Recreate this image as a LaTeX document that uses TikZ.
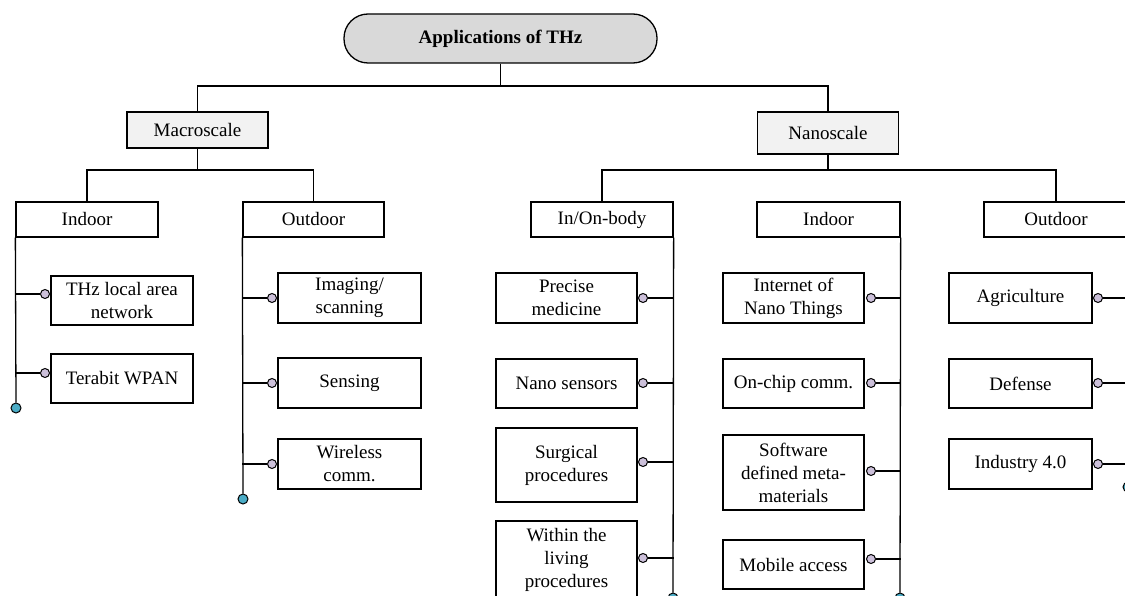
\documentclass[tikz,border=0pt]{standalone}
\usepackage{fontspec}
\setmainfont{Liberation Serif}
\begin{document}
\definecolor{rootgray}{HTML}{D9D9D9}
\definecolor{scalegray}{HTML}{F2F2F2}
\definecolor{pinlav}{HTML}{CCC0DA}
\definecolor{endteal}{HTML}{4BACC6}
\begin{tikzpicture}[x=1pt,y=-1pt,
  every node/.style={font=\fontsize{19}{23}\selectfont},
  link/.style={line width=1.3pt},
  rootbox/.style={draw, line width=1.3pt, rounded corners=24pt, fill=rootgray,
    minimum width=313pt, minimum height=49pt, inner sep=0pt,
    font=\fontsize{19}{23}\selectfont\bfseries},
  scalebox/.style={draw, line width=1.3pt, fill=scalegray, minimum width=141pt, inner sep=0pt},
  areabox/.style={draw, line width=1.3pt, fill=white, minimum height=35pt, inner sep=0pt},
  leafbox/.style={draw, line width=1.3pt, fill=white, align=center, inner sep=0pt},
  pin/.style={circle, draw, line width=1pt, fill=pinlav, minimum size=9pt, inner sep=0pt},
  enddot/.style={circle, draw, line width=1pt, fill=endteal, minimum size=10pt, inner sep=0pt}]
\useasboundingbox (0,0) rectangle (1125,596);
\clip (0,0) rectangle (1125,596);

% levels of the tree
\coordinate (topbar) at (0,86);
\coordinate (midbar) at (0,170);

\node[rootbox] (root) at (500.5,38.5) {Applications of THz};
\node[scalebox, minimum height=36pt] (macro) at (197.5,130) {Macroscale};
\node[scalebox, minimum height=42pt] (nano) at (828,133) {Nanoscale};

\node[areabox, minimum width=142pt] (mIn)   at (87,219.5)    {Indoor};
\node[areabox, minimum width=141pt] (mOut)  at (313.5,219.5) {Outdoor};
\node[areabox, minimum width=142pt] (nBody) at (602,219.5)   {In/On-body};
\node[areabox, minimum width=143pt] (nIn)   at (828.5,219.5) {Indoor};
\node[areabox, minimum width=144pt] (nOut)  at (1056,219.5)  {Outdoor};

\draw[link] (root.south) -- (root.south |- topbar);
\draw[link] (macro.north) |- (nano.north |- topbar) -- (nano.north);
\draw[link] (macro.south) -- (macro.south |- midbar);
\draw[link] (mIn.north) |- (mOut.north |- midbar) -- (mOut.north);
\draw[link] (nano.south) -- (nano.south |- midbar);
\draw[link] (nBody.north) |- (nOut.north |- midbar) -- (nOut.north);

% Macroscale / Indoor
\node[leafbox, minimum width=142pt, minimum height=49pt] (t1) at (122,300.5) {THz local area\\network};
\node[leafbox, minimum width=142pt, minimum height=49pt] (t2) at (122,378.5) {Terabit WPAN};
\node[pin] (t1p) at (45,294) {};
\node[pin] (t2p) at (45,373) {};
\node[enddot] (mInEnd) at (16,408) {};
\draw[link] (mIn.south west) -- (mInEnd.north);
\draw[link] (t1p.west) -- (t1p.west -| mIn.west);
\draw[link] (t2p.west) -- (t2p.west -| mIn.west);

% Macroscale / Outdoor
\node[leafbox, minimum width=143pt, minimum height=50pt] (o1) at (349.5,298) {Imaging/\\scanning};
\node[leafbox, minimum width=143pt, minimum height=50pt] (o2) at (349.5,383) {Sensing};
\node[leafbox, minimum width=143pt, minimum height=50pt] (o3) at (349.5,464) {Wireless\\comm.};
\node[pin] (o1p) at (272,298) {};
\node[pin] (o2p) at (272,383) {};
\node[pin] (o3p) at (272,464) {};
\node[enddot] (mOutEnd) at (243,499) {};
\draw[link] (mOut.south west) -- (mOutEnd.north);
\draw[link] (o1p.west) -- (o1p.west -| mOut.west);
\draw[link] (o2p.west) -- (o2p.west -| mOut.west);
\draw[link] (o3p.west) -- (o3p.west -| mOut.west);

% Nanoscale / In/On-body
\node[leafbox, minimum width=141pt, minimum height=50pt] (b1) at (566.5,298) {Precise\\medicine};
\node[leafbox, minimum width=141pt, minimum height=49pt] (b2) at (566.5,383.5) {Nano sensors};
\node[leafbox, minimum width=141pt, minimum height=74pt] (b3) at (566.5,465) {Surgical\\procedures};
\node[leafbox, minimum width=141pt, minimum height=77pt] (b4) at (566.5,559.5) {Within the\\living\\procedures};
\node[pin] (b1p) at (643,298) {};
\node[pin] (b2p) at (643,383) {};
\node[pin] (b3p) at (643,462) {};
\node[pin] (b4p) at (643,558) {};
\node[enddot] (nBodyEnd) at (673,598) {};
\draw[link] (nBody.south east) -- (nBodyEnd.north);
\draw[link] (b1p.east) -- (b1p.east -| nBody.east);
\draw[link] (b2p.east) -- (b2p.east -| nBody.east);
\draw[link] (b3p.east) -- (b3p.east -| nBody.east);
\draw[link] (b4p.east) -- (b4p.east -| nBody.east);

% Nanoscale / Indoor
\node[leafbox, minimum width=141pt, minimum height=50pt] (i1) at (793.5,298) {Internet of\\Nano Things};
\node[leafbox, minimum width=141pt, minimum height=49pt] (i2) at (793.5,383.5) {On-chip comm.};
\node[leafbox, minimum width=141pt, minimum height=75pt] (i3) at (793.5,472.5) {Software\\defined meta-\\materials};
\node[leafbox, minimum width=141pt, minimum height=49pt] (i4) at (793.5,564.5) {Mobile access};
\node[pin] (i1p) at (871,298) {};
\node[pin] (i2p) at (871,383) {};
\node[pin] (i3p) at (871,471) {};
\node[pin] (i4p) at (871,559) {};
\node[enddot] (nInEnd) at (900,598) {};
\draw[link] (nIn.south east) -- (nInEnd.north);
\draw[link] (i1p.east) -- (i1p.east -| nIn.east);
\draw[link] (i2p.east) -- (i2p.east -| nIn.east);
\draw[link] (i3p.east) -- (i3p.east -| nIn.east);
\draw[link] (i4p.east) -- (i4p.east -| nIn.east);

% Nanoscale / Outdoor
\node[leafbox, minimum width=143pt, minimum height=50pt] (a1) at (1020.5,298) {Agriculture};
\node[leafbox, minimum width=143pt, minimum height=49pt] (a2) at (1020.5,383.5) {Defense};
\node[leafbox, minimum width=143pt, minimum height=50pt] (a3) at (1020.5,464) {Industry 4.0};
\node[pin] (a1p) at (1098,298) {};
\node[pin] (a2p) at (1098,383) {};
\node[pin] (a3p) at (1098,464) {};
\node[enddot] (nOutEnd) at (1128,487) {};
\draw[link] (nOut.south east) -- (nOutEnd.north);
\draw[link] (a1p.east) -- (a1p.east -| nOut.east);
\draw[link] (a2p.east) -- (a2p.east -| nOut.east);
\draw[link] (a3p.east) -- (a3p.east -| nOut.east);
\end{tikzpicture}
\end{document}
